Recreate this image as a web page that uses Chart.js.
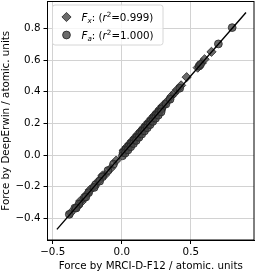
<!DOCTYPE html>
<html>
<head>
<meta charset="utf-8">
<script src="https://cdn.jsdelivr.net/npm/chart.js@4/dist/chart.umd.min.js"></script>
<style>
  html, body { margin: 0; padding: 0; background: #fff; }
  #wrap { width: 257px; height: 273px; }
</style>
</head>
<body>
<div id="wrap"><canvas id="myChart" width="257" height="273"></canvas></div>
<script>
// reference forces (MRCI-D-F12) and predicted forces (DeepErwin)
const fxRef = [-0.37, -0.32, -0.29, -0.25, -0.21, -0.17, -0.12, -0.08, -0.04, 0.02, 0.04, 0.06, 0.08, 0.10, 0.12, 0.14, 0.16, 0.18, 0.20, 0.22, 0.24, 0.26, 0.28, 0.30, 0.33, 0.36, 0.38, 0.40, 0.43, 0.47, 0.55, 0.58, 0.60, 0.65,
               0.015, 0.035, 0.055, 0.075, 0.095, 0.115, 0.135, 0.155, 0.175, 0.195, 0.215, 0.235, 0.255, 0.275, 0.295, -0.30, -0.23, -0.14];
const fxDE  = [-0.365, -0.325, -0.295, -0.245, -0.205, -0.165, -0.125, -0.085, -0.035, 0.028, 0.045, 0.068, 0.085, 0.108, 0.125, 0.148, 0.166, 0.188, 0.205, 0.228, 0.246, 0.268, 0.286, 0.308, 0.34, 0.372, 0.39, 0.412, 0.44, 0.492, 0.552, 0.582, 0.605, 0.652,
               0.03, 0.05, 0.07, 0.09, 0.11, 0.13, 0.15, 0.17, 0.19, 0.21, 0.23, 0.25, 0.27, 0.29, 0.31, -0.29, -0.22, -0.13];
const faRef = [-0.38, -0.34, -0.31, -0.27, -0.24, -0.19, -0.14, -0.10, -0.06, 0.01, 0.03, 0.05, 0.07, 0.09, 0.11, 0.13, 0.15, 0.17, 0.19, 0.21, 0.23, 0.25, 0.27, 0.29, 0.32, 0.35, 0.42, 0.56, 0.57, 0.70, 0.80,
               0.005, 0.025, 0.045, 0.065, 0.085, 0.105, 0.125, 0.145, 0.165, 0.185, 0.205, 0.225, 0.245, 0.265, 0.285, -0.33, -0.26, -0.20, -0.16];
const faDE  = [-0.375, -0.335, -0.31, -0.268, -0.238, -0.188, -0.138, -0.098, -0.058, 0.015, 0.033, 0.053, 0.073, 0.093, 0.112, 0.133, 0.152, 0.172, 0.192, 0.212, 0.232, 0.252, 0.272, 0.292, 0.322, 0.352, 0.422, 0.562, 0.572, 0.702, 0.805,
               -0.005, 0.012, 0.032, 0.052, 0.072, 0.092, 0.112, 0.132, 0.152, 0.172, 0.192, 0.212, 0.232, 0.252, 0.272, -0.335, -0.265, -0.205, -0.165];
const diagLine = [-0.47, 0.90];
const xTicks = [-0.5, 0.0, 0.5];
const yTicks = [-0.4, -0.2, 0.0, 0.2, 0.4, 0.6, 0.8];

const fmt = v => (v < 0 ? '\u2212' : '') + Math.abs(v).toFixed(1);
const pts = (a, b) => a.map((v, i) => ({ x: v, y: b[i] }));
const FONT = 'DejaVu Sans';
const FS = 10.3;
const fill = 'rgba(70,70,70,0.8)';
const edge = 'rgba(35,35,35,0.8)';

const frame = {
  id: 'frame',
  afterDatasetsDraw(chart) {
    const { ctx, chartArea: a } = chart;
    ctx.save();
    ctx.strokeStyle = '#000';
    ctx.lineWidth = 1;
    ctx.strokeRect(a.left, a.top, a.right - a.left, a.bottom - a.top);
    ctx.restore();
  }
};

const mathLegend = {
  id: 'mathLegend',
  afterDraw(chart) {
    const { ctx, chartArea: a } = chart;
    const bx = a.left + 5, by = a.top + 3.5, bw = 110.5, bh = 40;
    ctx.save();
    ctx.beginPath();
    ctx.roundRect(bx, by, bw, bh, 2.5);
    ctx.fillStyle = 'rgba(255,255,255,0.8)';
    ctx.fill();
    ctx.strokeStyle = '#d6d6d6';
    ctx.lineWidth = 1;
    ctx.stroke();

    const rows = [
      { style: 'rectRot', sub: 'x', r2: '0.999' },
      { style: 'circle', sub: 'a', r2: '1.000' }
    ];
    rows.forEach((row, i) => {
      const cy = by + 12 + i * 18;
      const mx = bx + 14;
      ctx.fillStyle = fill;
      ctx.strokeStyle = edge;
      ctx.lineWidth = 1;
      Chart.helpers.drawPoint(ctx, { pointStyle: row.style, radius: row.style === 'circle' ? 3.9 : 4.6, borderWidth: 1 }, mx, cy);

      let x = bx + 29;
      const base = cy + 3.6;
      ctx.fillStyle = '#000';
      ctx.textBaseline = 'alphabetic';
      ctx.textAlign = 'left';
      const put = (t, font, dy) => {
        ctx.font = font;
        ctx.fillText(t, x, base + dy);
        x += ctx.measureText(t).width;
      };
      put('F', 'italic ' + FS + 'px ' + FONT, 0);
      put(row.sub, 'italic 7.2px ' + FONT, 2);
      put(': (', FS + 'px ' + FONT, 0);
      put('r', 'italic ' + FS + 'px ' + FONT, 0);
      put('2', '7.2px ' + FONT, -4);
      put('=' + row.r2 + ')', FS + 'px ' + FONT, 0);
    });
    ctx.restore();
  }
};

new Chart(document.getElementById('myChart').getContext('2d'), {
  type: 'scatter',
  data: {
    datasets: [
      {
        type: 'line',
        data: pts(diagLine, diagLine),
        borderColor: '#000',
        borderWidth: 1.4,
        pointRadius: 0,
        order: 0
      },
      {
        label: 'Fx',
        data: pts(fxRef, fxDE),
        pointStyle: 'rectRot',
        pointRadius: 4.6,
        backgroundColor: fill,
        borderColor: edge,
        borderWidth: 1,
        order: 2
      },
      {
        label: 'Fa',
        data: pts(faRef, faDE),
        pointStyle: 'circle',
        pointRadius: 3.9,
        backgroundColor: fill,
        borderColor: edge,
        borderWidth: 1,
        order: 1
      }
    ]
  },
  options: {
    responsive: false,
    animation: false,
    events: [],
    layout: { autoPadding: false, padding: { top: 1.5, right: 3, left: 0, bottom: 0 } },
    plugins: { legend: { display: false }, tooltip: { enabled: false } },
    scales: {
      x: {
        type: 'linear',
        min: -0.538, max: 0.958,
        afterBuildTicks: s => { s.ticks = xTicks.map(v => ({ value: v })); },
        afterFit: s => { s.height = 33; s.paddingLeft = 0; s.paddingRight = 0; },
        grid: { color: '#d2d2d2', lineWidth: 1, tickColor: '#000', tickLength: 4 },
        border: { color: '#000', width: 1 },
        ticks: { color: '#000', font: { family: FONT, size: FS }, padding: 2, maxRotation: 0, callback: v => fmt(v) },
        title: { display: true, text: 'Force by MRCI-D-F12 / atomic. units', color: '#000', font: { family: FONT, size: FS }, padding: { top: 0, bottom: 0 } }
      },
      y: {
        type: 'linear',
        min: -0.537, max: 0.970,
        afterBuildTicks: s => { s.ticks = yTicks.map(v => ({ value: v })); },
        afterFit: s => { s.width = 47.5; s.paddingTop = 0; s.paddingBottom = 0; },
        grid: { color: '#d2d2d2', lineWidth: 1, tickColor: '#000', tickLength: 4 },
        border: { color: '#000', width: 1 },
        ticks: { color: '#000', font: { family: FONT, size: FS }, padding: 3, callback: v => fmt(v) },
        title: { display: true, text: 'Force by DeepErwin / atomic. units', color: '#000', font: { family: FONT, size: FS }, padding: { top: 0, bottom: 0 } }
      }
    }
  },
  plugins: [frame, mathLegend]
});
</script>
</body>
</html>
